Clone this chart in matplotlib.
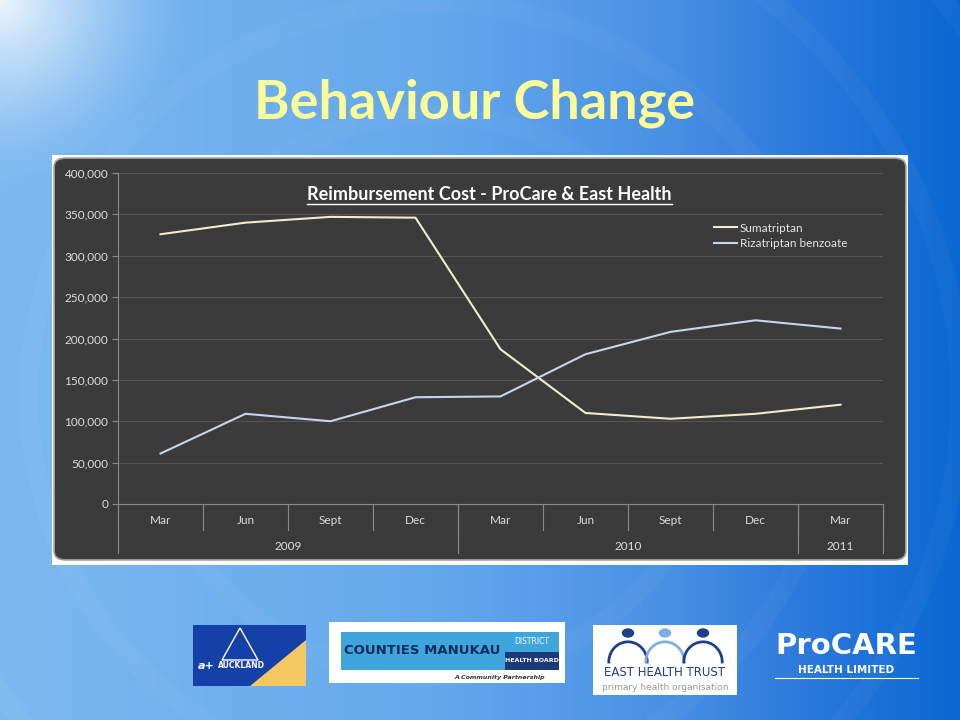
import numpy as np
import matplotlib
matplotlib.use("Agg")
import matplotlib.pyplot as plt
from matplotlib.patches import Rectangle, FancyBboxPatch, Circle, Polygon
from matplotlib.lines import Line2D
from matplotlib.colors import to_rgb

months = ["Mar", "Jun", "Sept", "Dec", "Mar", "Jun", "Sept", "Dec", "Mar"]
years = ["2009", "2010", "2011"]
year_spans = [(0, 3), (4, 7), (8, 8)]
sumatriptan = [326000, 340000, 347000, 346000, 187000, 110000, 103000, 109000, 120000]
rizatriptan = [61000, 109000, 100000, 129000, 130000, 181000, 208000, 222000, 212000]
yticks = [0, 50000, 100000, 150000, 200000, 250000, 300000, 350000, 400000]

W, H = 960, 720
fig = plt.figure(figsize=(9.6, 7.2), dpi=100)


def fx(px):
    return px / W


def fy(py):
    return 1 - py / H


# background: horizontal blue gradient plus a white glow in the top-left corner
bg = fig.add_axes([0, 0, 1, 1], zorder=-10)
bg.set_axis_off()
yy, xx = np.mgrid[0:1:240j, 0:1:320j]
stops = [0.0, 0.45, 0.7, 0.85, 1.0]
cols = [to_rgb(c) for c in ["#7db9f0", "#64a8ec", "#4890e4", "#2a78dc", "#0a68d2"]]
img = np.zeros(xx.shape + (3,))
for k in range(3):
    img[..., k] = np.interp(xx, stops, [c[k] for c in cols])
d = np.sqrt((xx * 1.0) ** 2 + (yy * 0.75) ** 2)
glow = np.clip(1 - d / 0.2, 0, 1) ** 1.5
img = img + (1 - img) * glow[..., None] * 0.85
bg.imshow(img, extent=[0, 1, 0, 1], aspect="auto", origin="upper")
th = np.linspace(0, 2 * np.pi, 300)
for r in [0.3, 0.42, 0.55, 0.68]:
    bg.plot(0.45 + r * np.cos(th), 0.45 + r * 1.3 * np.sin(th), color="white",
            alpha=0.03, lw=14)
bg.set_xlim(0, 1)
bg.set_ylim(0, 1)

fig.text(fx(475), fy(103), "Behaviour Change", ha="center", va="center",
         fontsize=39, fontweight="bold", color="#fcfc98", family="Lato")

# chart frame
fig.add_artist(Rectangle((fx(52), fy(565)), fx(908) - fx(52), fy(155) - fy(565),
                         transform=fig.transFigure, facecolor="white",
                         edgecolor="none", zorder=0))
fig.add_artist(FancyBboxPatch((fx(58), fy(557)), fx(902) - fx(58), fy(161) - fy(557),
                              boxstyle="round,pad=0.004,rounding_size=0.012",
                              transform=fig.transFigure, facecolor="#3b3b3b",
                              edgecolor="#9a9a9a", lw=1.2, zorder=0))

ax = fig.add_axes([fx(118), fy(504), fx(883) - fx(118), fy(173) - fy(504)])
ax.set_facecolor("none")
x = np.arange(len(months))
ax.plot(x, sumatriptan, color="#efedcf", lw=1.5, label="Sumatriptan")
ax.plot(x, rizatriptan, color="#c5d6ee", lw=1.5, label="Rizatriptan benzoate")
ax.set_xlim(-0.5, 8.5)
ax.set_ylim(0, 400000)
ax.set_yticks(yticks)
ax.set_yticklabels([f"{v:,}" for v in yticks], family="Lato", fontsize=8.5,
                   color="#dcdcdc")
ax.tick_params(axis="y", length=4, color="#8a8a8a", pad=3)
ax.set_xticks([])
for v in yticks[1:]:
    ax.axhline(v, color="#555555", lw=0.8, zorder=0)
for s in ["top", "right"]:
    ax.spines[s].set_visible(False)
ax.spines["left"].set_color("#8a8a8a")
ax.spines["bottom"].set_color("#8a8a8a")

tr = ax.get_xaxis_transform()
for i, m in enumerate(months):
    ax.text(i, -17 / 331, m, transform=tr, ha="center", va="center",
            fontsize=8.5, color="#dcdcdc", family="Lato")
for b in np.arange(-0.5, 9, 1.0):
    ax.add_line(Line2D([b, b], [0, -26 / 331], transform=tr, color="#8a8a8a",
                       lw=0.8, clip_on=False))
for (a, c), yr in zip(year_spans, years):
    ax.text((a + c) / 2, -42 / 331, yr, transform=tr, ha="center", va="center",
            fontsize=8.5, color="#dcdcdc", family="Lato")
    for b in [a - 0.5, c + 0.5]:
        ax.add_line(Line2D([b, b], [0, -49 / 331], transform=tr, color="#8a8a8a",
                           lw=0.8, clip_on=False))

title = fig.text(fx(489.5), fy(194), "Reimbursement Cost - ProCare & East Health",
                 ha="center", va="center", fontsize=13, fontweight="bold",
                 color="white", family="Lato")
fig.canvas.draw()
bb = title.get_window_extent().transformed(fig.transFigure.inverted())
fig.add_artist(Line2D([bb.x0, bb.x1], [fy(204), fy(204)],
                      transform=fig.transFigure, color="white", lw=1))

leg = ax.legend(loc="upper left", bbox_to_anchor=((703 - 118) / 765, (504 - 212) / 331),
                frameon=False, handlelength=2.0, handletextpad=0.2,
                labelspacing=0.4, prop={"family": "Lato", "size": 8.5})
for txt in leg.get_texts():
    txt.set_color("#e6e6e6")

# logos
fig.add_artist(Rectangle((fx(193), fy(686)), fx(113), fy(625) - fy(686),
                         transform=fig.transFigure, facecolor="#1440a8", zorder=2))
fig.add_artist(Polygon([(fx(250), fy(686)), (fx(306), fy(686)), (fx(306), fy(640))],
                       closed=True, transform=fig.transFigure, facecolor="#f4c860",
                       zorder=2))
fig.add_artist(Polygon([(fx(222), fy(660)), (fx(240), fy(628)), (fx(258), fy(660))],
                       closed=True, transform=fig.transFigure, facecolor="none",
                       edgecolor="white", lw=1, zorder=3))
fig.text(fx(218), fy(665), "AUCKLAND", fontsize=5.5, fontweight="bold",
         color="white", va="center", zorder=4)
fig.text(fx(198), fy(666), "a+", fontsize=8, fontweight="bold", color="white",
         style="italic", va="center", zorder=4)

fig.add_artist(Rectangle((fx(329), fy(683)), fx(236), fy(622) - fy(683),
                         transform=fig.transFigure, facecolor="white", zorder=2))
fig.add_artist(Rectangle((fx(341), fy(670)), fx(218), fy(632) - fy(670),
                         transform=fig.transFigure, facecolor="#3ea6dc", zorder=3))
fig.add_artist(Rectangle((fx(505), fy(670)), fx(54), fy(652) - fy(670),
                         transform=fig.transFigure, facecolor="#1c3a7a", zorder=3))
fig.text(fx(344), fy(651), "COUNTIES MANUKAU", fontsize=9.5, fontweight="bold",
         color="#0e2a60", va="center", family="Liberation Sans Narrow", zorder=4)
fig.text(fx(532), fy(641), "DISTRICT", fontsize=5.5, color="white", ha="center",
         va="center", zorder=4)
fig.text(fx(532), fy(661), "HEALTH BOARD", fontsize=4.5, color="white",
         ha="center", va="center", fontweight="bold", zorder=4)
fig.text(fx(500), fy(677), "A Community Partnership", fontsize=4.5, color="#333333",
         ha="center", va="center", style="italic", fontweight="bold", zorder=4)

fig.add_artist(Rectangle((fx(593), fy(695)), fx(144), fy(625) - fy(695),
                         transform=fig.transFigure, facecolor="white", zorder=2))
th2 = np.linspace(0, np.pi, 50)
for cx, col in [(628, "#1f3f8a"), (665, "#7ab0e0"), (703, "#1f3f8a")]:
    fig.add_artist(Circle((fx(cx), fy(633)), 0.0065, transform=fig.transFigure,
                          facecolor=col, zorder=3))
    fig.add_artist(Line2D(fx(cx) + 0.02 * np.cos(th2), fy(662) + 0.028 * np.sin(th2),
                          transform=fig.transFigure, color=col, lw=2, zorder=3))
fig.text(fx(665), fy(673), "EAST HEALTH TRUST", fontsize=8.5, color="#1f3f8a",
         ha="center", va="center", family="Liberation Sans Narrow", zorder=4)
fig.text(fx(665), fy(688), "primary health organisation", fontsize=6.5,
         color="#999999", ha="center", va="center", zorder=4)

fig.text(fx(846), fy(646), "ProCARE", fontsize=21, fontweight="bold", color="white",
         ha="center", va="center", family="Liberation Sans Narrow", zorder=4)
fig.text(fx(846), fy(670), "HEALTH LIMITED", fontsize=7.5, fontweight="bold",
         color="white", ha="center", va="center", zorder=4)
fig.add_artist(Line2D([fx(775), fx(918)], [fy(678), fy(678)],
                      transform=fig.transFigure, color="white", lw=0.8))

fig.savefig("out.png", dpi=100)
